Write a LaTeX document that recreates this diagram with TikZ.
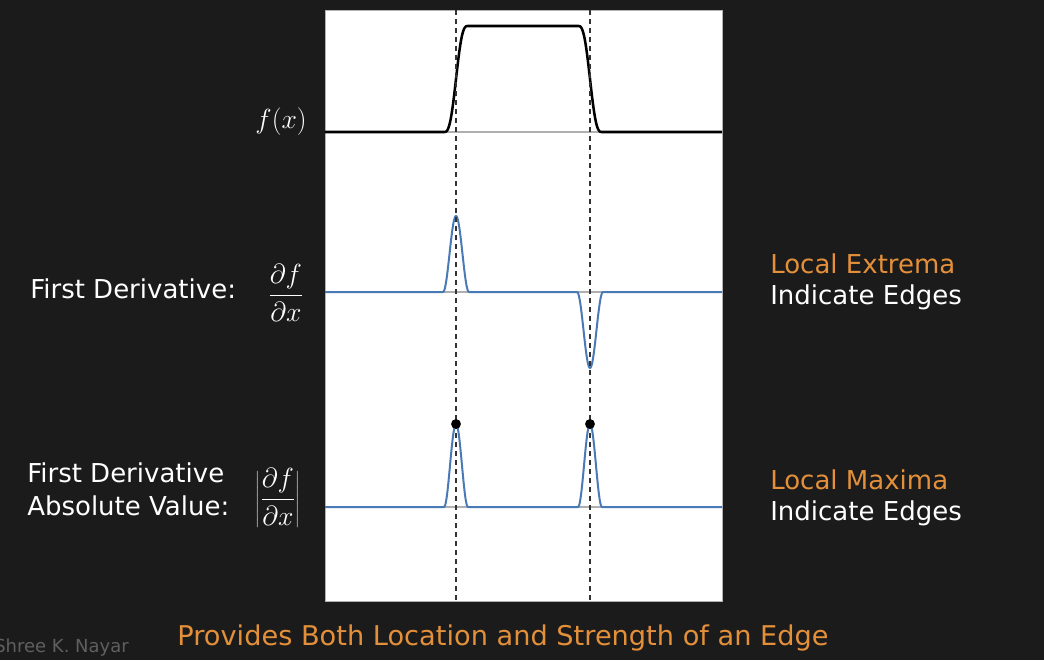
\documentclass[tikz,border=0pt]{standalone}
\usepackage{fontspec}
\setmainfont{DejaVu Sans}
\definecolor{bg}{RGB}{27,27,27}
\definecolor{orng}{RGB}{228,144,58}
\definecolor{plotblue}{RGB}{74,122,181}
\definecolor{axisgray}{RGB}{175,175,175}
\definecolor{dashgray}{RGB}{50,50,50}
\definecolor{credit}{RGB}{95,95,95}
\tikzset{
  lbl/.style={text=white, inner sep=0pt, font=\fontsize{19.5}{24.75}\selectfont, align=left},
  olbl/.style={lbl, text=orng},
  mathlbl/.style={text=white, inner sep=0pt, font=\fontsize{21}{25}\selectfont},
  zeroline/.style={draw=axisgray, line width=1.1pt},
  fcurve/.style={draw=black, line width=1.9pt, line join=round},
  dcurve/.style={draw=plotblue, line width=1.5pt, line join=round},
  guide/.style={draw=dashgray, line width=0.8pt, dash pattern=on 3.75pt off 3pt},
  peakdot/.style={circle, fill=black, inner sep=0pt, minimum size=7.4pt}
}
\begin{document}
\begin{tikzpicture}[x=0.75pt, y=-0.75pt]
\useasboundingbox (0,0) rectangle (1044,660);
\fill[bg] (0,0) rectangle (1044,660);
% panel
\fill[white, draw=gray!60, line width=0.5pt] (325,10) rectangle (722,601);
% zero lines
\draw[zeroline] (325,132) -- (722,132);
\draw[zeroline] (325,292) -- (722,292);
\draw[zeroline] (325,507) -- (722,507);
% f(x)
\draw[fcurve] (325,132) -- (444,132)
  -- plot[domain=444:468, samples=50] (\x, {132-106*(((\x-456)/12+1)/2 + sin(180*(\x-456)/12)/(2*pi))})
  -- (578,26)
  -- plot[domain=578:602, samples=50] (\x, {26+106*(((\x-590)/12+1)/2 + sin(180*(\x-590)/12)/(2*pi))})
  -- (722,132);
% first derivative
\draw[dcurve] (325,292) -- (443,292)
  -- plot[domain=443:469, samples=50] (\x, {292-38*(1+cos(180*(\x-456)/13))})
  -- (577,292)
  -- plot[domain=577:603, samples=50] (\x, {292+38*(1+cos(180*(\x-590)/13))})
  -- (722,292);
% absolute value
\draw[dcurve] (325,507) -- (444,507)
  -- plot[domain=444:468, samples=50] (\x, {507-41.5*(1+cos(180*(\x-456)/12))})
  -- (578,507)
  -- plot[domain=578:602, samples=50] (\x, {507-41.5*(1+cos(180*(\x-590)/12))})
  -- (722,507);
% guides
\coordinate (g1t) at (456,10);
\coordinate (g1b) at (456,601);
\coordinate (g2t) at (590,10);
\coordinate (g2b) at (590,601);
\draw[guide] (g1t) -- (g1b);
\draw[guide] (g2t) -- (g2b);
% peak dots
\node[peakdot] (dotA) at (456,424) {};
\node[peakdot] (dotB) at (590,424) {};
% left labels
\node[mathlbl, anchor=base east] (fx) at (307,128) {$f(x)$};
\node[lbl, anchor=base west] (fd) at (30,298) {First Derivative:};
\node[mathlbl] (dfrac) at (286,293) {$\displaystyle\frac{\partial f}{\partial x}$};
\node[lbl, anchor=base west] (ad1) at (27,482) {First Derivative};
\node[lbl, anchor=base west] (ad2) at (27,515) {Absolute Value:};
\node[mathlbl] (afrac) at (278,498) {$\displaystyle\left|\frac{\partial f}{\partial x}\right|$};
% right labels
\node[olbl, anchor=base west] (le) at (770,273) {Local Extrema};
\node[lbl, anchor=base west] (ie1) at (770,304) {Indicate Edges};
\node[olbl, anchor=base west] (lm) at (770,489) {Local Maxima};
\node[lbl, anchor=base west] (ie2) at (770,520) {Indicate Edges};
% bottom
\node[olbl, anchor=base, font=\fontsize{20.4}{24}\selectfont] (bottom) at (503,645) {Provides Both Location and Strength of an Edge};
\node[text=credit, inner sep=0pt, anchor=base west, font=\fontsize{13.5}{16}\selectfont] (credit) at (-6,652) {Shree K. Nayar};
\end{tikzpicture}
\end{document}
